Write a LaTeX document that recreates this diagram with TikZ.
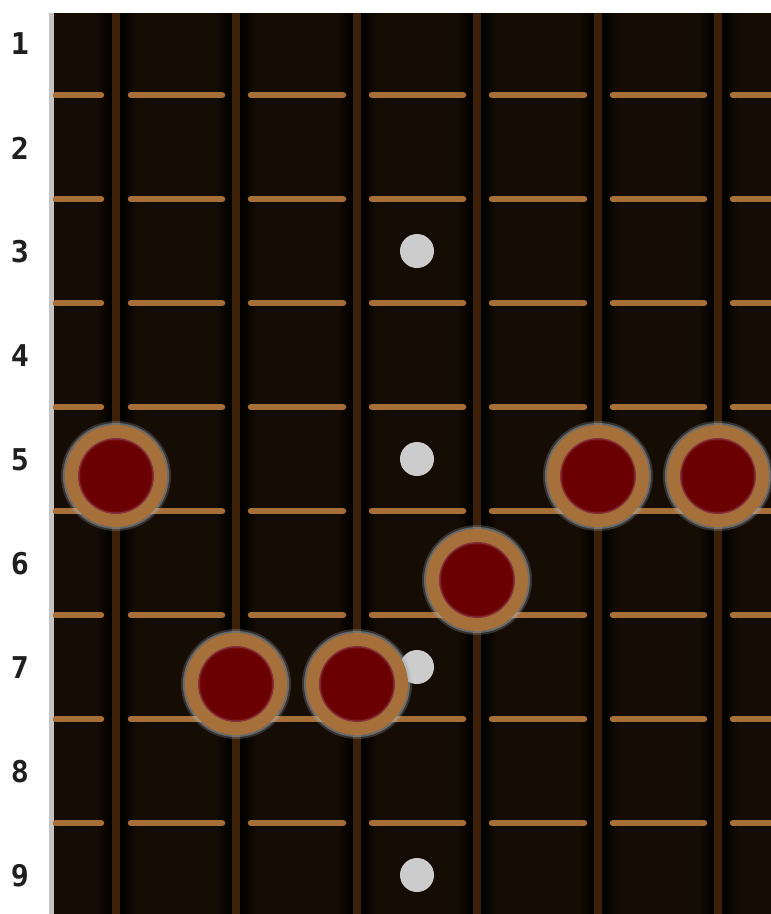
\documentclass[tikz,border=0pt]{standalone}
\usepackage{fontspec}
\newfontfamily\numfont{DejaVu Sans Mono}
\definecolor{board}{HTML}{150C03}
\definecolor{strcol}{HTML}{3C2008}
\definecolor{fretcol}{HTML}{A66F38}
\definecolor{ringcol}{HTML}{A5703A}
\definecolor{notered}{HTML}{6B0000}
\definecolor{noteedge}{HTML}{86303C}
\definecolor{dotcol}{HTML}{CCCCCC}
\definecolor{edgecol}{HTML}{C4C4C4}
\definecolor{glowcol}{HTML}{A8AEB6}
\tikzset{
  fretnum/.style={font=\numfont\bfseries\fontsize{30}{30}\selectfont, text=black!88, inner sep=0pt, anchor=center},
  inlay/.style={circle, fill=dotcol, minimum size=34pt, inner sep=0pt},
  glowa/.style={circle, fill=glowcol, opacity=0.25, minimum size=110pt, inner sep=0pt},
  glowb/.style={circle, fill=glowcol, opacity=0.45, minimum size=106pt, inner sep=0pt},
  ring/.style={circle, fill=ringcol, minimum size=102pt, inner sep=0pt},
  redge/.style={circle, fill=noteedge, minimum size=76pt, inner sep=0pt},
  rmid/.style={circle, fill=notered!80!noteedge, minimum size=73pt, inner sep=0pt},
  rcore/.style={circle, fill=notered, minimum size=70pt, inner sep=0pt},
  fretline/.style={fretcol, line width=6.5pt, line cap=round},
  stringline/.style={strcol, line width=8pt}
}
\begin{document}
\begin{tikzpicture}[x=1pt,y=-1pt]
\useasboundingbox (0,0) rectangle (771,914);
\fill[white] (0,0) rectangle (771,914);
% board
\fill[board] (54,13) rectangle (771,914);
\fill[edgecol] (49,13) rectangle (54,914);
% string shadows
\foreach \sx in {116,236,357,477,598,718}{
  \shade[left color=board, right color=black] (\sx-20,13) rectangle (\sx-4,914);
  \shade[left color=black, right color=board] (\sx+4,13) rectangle (\sx+20,914);
}
% frets
\foreach \fy in {95,199,303,407,511,615,719,823}{
  \draw[fretline] (56,\fy) -- (101,\fy);
  \foreach \ax/\bx in {131/222,251/343,372/463,492/584,613/704}{
    \draw[fretline] (\ax,\fy) -- (\bx,\fy);
  }
  \draw[fretline] (733,\fy) -- (775,\fy);
}
% strings
\foreach \sx in {116,236,357,477,598,718}{
  \draw[stringline] (\sx,13) -- (\sx,914);
}
% fret numbers
\foreach \n in {1,...,9}{
  \node[fretnum] (f\n) at (20,{44+104*(\n-1)}) {\n};
}
% inlay dots
\node[inlay] (d3) at (417,251) {};
\node[inlay] (d5) at (417,459) {};
\node[inlay] (d7) at (417,667) {};
\node[inlay] (d9) at (417,875) {};
% notes
\foreach \nm/\nx/\ny in {a/116/476, b/598/476, c/718/476, d/477/580, e/236/684, f/357/684}{
  \node[glowa] (g\nm) at (\nx,\ny) {};
  \node[glowb] (h\nm) at (\nx,\ny) {};
  \node[ring] (n\nm) at (\nx,\ny) {};
  \node[redge] (e\nm) at (n\nm) {};
  \node[rmid] (m\nm) at (n\nm) {};
  \node[rcore] (c\nm) at (n\nm) {};
}
\end{tikzpicture}
\end{document}
